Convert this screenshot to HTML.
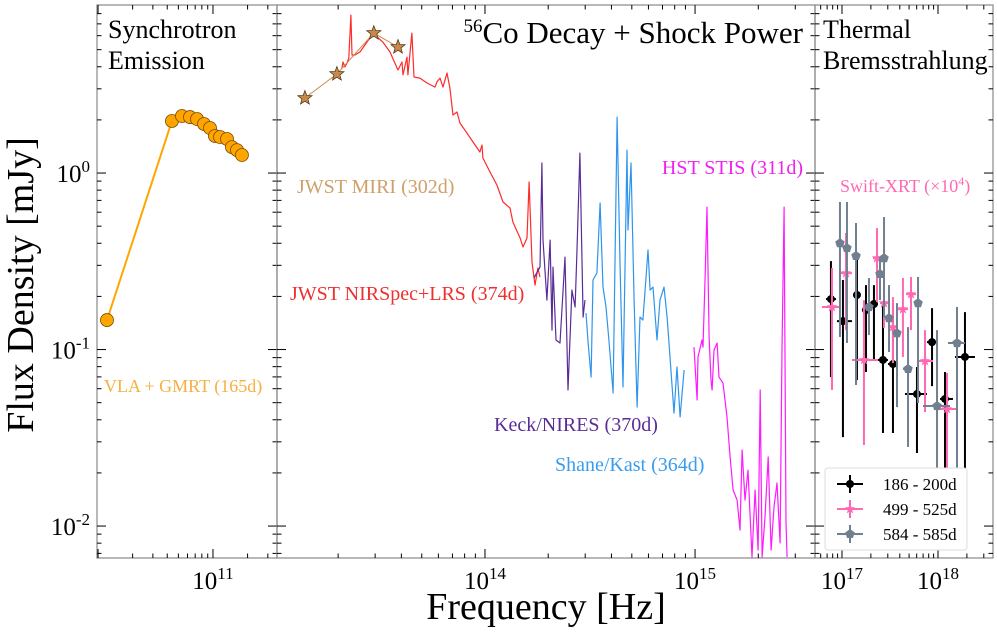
<!DOCTYPE html>
<html><head><meta charset="utf-8">
<style>
html,body{margin:0;padding:0;background:#fff;}
svg{display:block;font-family:"Liberation Serif",serif;}
</style></head>
<body>
<svg id="chart" width="997" height="633" viewBox="0 0 997 633" xmlns="http://www.w3.org/2000/svg"></svg>
<script>
// ---------- data (log10 Hz, log10 mJy) ----------
const radioNu = [10.078,10.643,10.730,10.800,10.861,10.922,10.974,11.017,11.061,11.122,11.165,11.209,11.252];
const radioF  = [-0.833,0.295,0.323,0.317,0.306,0.278,0.255,0.210,0.204,0.193,0.147,0.130,0.102];

const miriNu = [13.143,13.295,13.471,13.586];
const miriF  = [0.425,0.561,0.793,0.714];

const jwstNu = [13.319,13.324,13.333,13.343,13.352,13.362,13.367,13.381,13.405,13.438,13.462,13.486,13.514,13.548,13.571,13.586,13.605,13.610,13.629,13.633,13.652,13.662,13.690,13.724,13.762,13.771,13.786,13.800,13.819,13.833,13.848,13.867,13.881,13.914,13.943,13.976,13.986,13.990,14.024,14.057,14.086,14.119,14.133,14.167,14.181,14.200,14.210,14.224,14.238,14.252,14.262];
const jwstF  = [0.595,0.629,0.601,0.623,0.652,0.895,0.669,0.669,0.686,0.742,0.782,0.771,0.742,0.686,0.623,0.584,0.629,0.556,0.657,0.556,0.793,0.544,0.538,0.510,0.487,0.516,0.538,0.487,0.567,0.482,0.329,0.346,0.283,0.227,0.176,0.119,0.159,0.085,0.006,-0.068,-0.164,-0.198,-0.278,-0.368,-0.419,-0.368,-0.051,-0.504,-0.635,-0.538,-0.589];

const keckNu = [14.233,14.262,14.271,14.276,14.295,14.310,14.319,14.324,14.338,14.357,14.367,14.381,14.395,14.414,14.429,14.438,14.452,14.467,14.476];
const keckF  = [-0.595,-0.533,0.057,-0.380,-0.720,-0.380,-0.890,-0.533,-0.946,-0.963,-0.759,-0.476,-1.229,-0.663,-0.759,-0.436,0.113,-0.816,-0.720];

const kastNu = [14.481,14.490,14.505,14.514,14.533,14.548,14.562,14.576,14.590,14.610,14.629,14.643,14.657,14.676,14.681,14.695,14.710,14.724,14.738,14.752,14.776,14.786,14.800,14.819,14.833,14.852,14.867,14.881,14.900,14.914,14.929,14.948];
const kastF  = [-0.793,-0.946,-1.156,-0.606,-0.567,-0.170,-0.646,-0.759,-0.946,-1.246,0.317,-0.533,-1.212,0.130,-0.323,0.057,-0.720,-1.326,-0.816,-0.833,-0.436,-0.663,-0.646,-0.946,-0.720,-0.646,-0.816,-1.042,-1.360,-1.099,-1.382,-1.116];

const stisNu = [14.995,15.010,15.014,15.033,15.038,15.048,15.057,15.067,15.076,15.081,15.090,15.105,15.114,15.133,15.152,15.167,15.181,15.200,15.214,15.224,15.238,15.252,15.271,15.286,15.300,15.310,15.319,15.333,15.348,15.362,15.376,15.390,15.405,15.414,15.424,15.433,15.438];
const stisF  = [-0.986,-1.286,-1.042,-0.946,-0.986,-0.589,-0.193,-0.929,-1.173,-1.229,-1.003,-0.963,-1.156,-1.190,-1.382,-1.609,-1.796,-1.853,-2.023,-1.569,-1.853,-1.683,-2.176,-1.796,-2.136,-1.229,-2.176,-1.949,-1.609,-2.136,-1.892,-1.756,-2.096,-1.003,-0.193,-1.983,-2.176];

const xBlackNu   = [16.885,17.010,17.156,17.250,17.333,17.427,17.531,17.781,17.938,18.073,18.281];
const xBlackF    = [-0.714,-0.839,-0.691,-0.776,-0.742,-1.059,-1.082,-1.252,-0.958,-1.280,-1.042];
const xBlackFHi  = [-0.499,-0.606,-0.482,-0.635,-0.635,-0.737,-0.737,-1.099,-0.765,-1.127,-0.788];
const xBlackFLo  = [-1.156,-1.496,-1.173,-1.127,-1.059,-1.473,-1.473,-1.586,-1.207,-1.683,-1.683];
const xBlackNuLo = [16.833,16.948,17.115,17.208,17.292,17.375,17.479,17.656,17.885,18.021,18.177];
const xBlackNuHi = [16.938,17.104,17.188,17.292,17.375,17.479,17.583,17.885,17.990,18.156,18.385];

const xPinkNu   = [16.896,17.042,17.229,17.365,17.438,17.531,17.635,17.719,17.865,18.094];
const xPinkF    = [-0.759,-0.567,-1.059,-0.482,-0.737,-0.873,-0.771,-0.686,-1.065,-1.337];
const xPinkFHi  = [-0.538,-0.340,-0.720,-0.312,-0.606,-0.703,-0.595,-0.589,-0.890,-1.133];
const xPinkFLo  = [-1.229,-0.890,-1.541,-0.731,-0.878,-1.076,-1.042,-0.890,-1.354,-1.683];
const xPinkNuLo = [16.792,16.979,17.104,17.323,17.396,17.479,17.583,17.667,17.781,17.969];
const xPinkNuHi = [16.979,17.104,17.375,17.406,17.479,17.583,17.688,17.771,17.948,18.208];

const xGreyNu   = [16.979,17.052,17.146,17.281,17.396,17.438,17.490,17.573,17.688,17.792,17.990,18.198];
const xGreyF    = [-0.397,-0.425,-0.470,-0.759,-0.572,-0.482,-0.822,-0.907,-1.110,-0.737,-1.320,-0.963];
const xGreyFHi  = [-0.164,-0.164,-0.283,-0.595,-0.476,-0.249,-0.635,-0.737,-0.873,-0.589,-0.890,-0.759];
const xGreyFLo  = [-0.929,-0.963,-1.201,-0.918,-0.720,-0.816,-1.014,-1.326,-1.552,-1.303,-1.683,-1.683];
const xGreyNuLo = [16.94,17.01,17.11,17.24,17.36,17.40,17.45,17.53,17.635,17.75,17.844,18.104];
const xGreyNuHi = [17.02,17.09,17.19,17.32,17.44,17.48,17.53,17.61,17.729,17.83,18.125,18.281];

// ---------- scales ----------
const yTop=5, yBot=558, yMax=0.952, yMin=-2.181;
const Y = v => yTop + (yMax - v)/(yMax - yMin)*(yBot-yTop);
const panels = [
  {x0:97, x1:277, lo:9.991, hi:11.557, majors:[11]},
  {x0:277,x1:815, lo:13.010,hi:15.571, majors:[14,15]},
  {x0:815,x1:993, lo:16.719,hi:18.573, majors:[17,18]}
];
const X = (p,v) => p.x0 + (v-p.lo)/(p.hi-p.lo)*(p.x1-p.x0);

const NS="http://www.w3.org/2000/svg";
const svg=document.getElementById('chart');
function mk(tag,attrs,parent){const e=document.createElementNS(NS,tag);for(const k in attrs)e.setAttribute(k,attrs[k]);(parent||svg).appendChild(e);return e;}

// ---------- frames & ticks ----------
panels.forEach((p,i)=>{
  const g=mk('g',{});
  
  
  const fr=mk('rect',{x:p.x0,y:yTop,width:p.x1-p.x0,height:yBot-yTop,fill:'none',stroke:'#888','stroke-width':1.2},g);
  
  
  for(let d=-3; d<=0; d++){
    for(let m=1;m<10;m++){
      const v=d+Math.log10(m); if(v<yMin||v>yMax) continue;
      const L=m===1?9:4.5, y=Y(v);
      mk('line',{x1:p.x0,x2:p.x0+L,y1:y,y2:y,stroke:'#000','stroke-width':1},g);
      mk('line',{x1:p.x1,x2:p.x1-L,y1:y,y2:y,stroke:'#000','stroke-width':1},g);
    }
  }
  for(let d=Math.floor(p.lo); d<=Math.ceil(p.hi); d++){
    for(let m=1;m<10;m++){
      const v=d+Math.log10(m); if(v<p.lo||v>p.hi) continue;
      const L=m===1?9:4.5, x=X(p,v);
      mk('line',{x1:x,x2:x,y1:yBot,y2:yBot-L,stroke:'#000','stroke-width':1},g);
      mk('line',{x1:x,x2:x,y1:yTop,y2:yTop+L,stroke:'#000','stroke-width':1},g);
    }
  }
  p.majors.forEach(d=>{
    const t=mk('text',{x:X(p,d),y:589,'text-anchor':'middle','font-size':25},g);
    
    
    t.innerHTML='10<tspan dy="-10" font-size="17">'+d+'</tspan>';
  });
});
[0,-1,-2].forEach(d=>{
  const t=mk('text',{x:90,y:Y(d)+9,'text-anchor':'end','font-size':25});
  
  
  t.innerHTML='10<tspan dy="-10" font-size="17">'+d+'</tspan>';
});

// ---------- series helpers ----------
function line(p,xs,ys,color,w,name){
  const d=xs.map((v,i)=>(i?'L':'M')+X(p,v).toFixed(1)+' '+Y(ys[i]).toFixed(1)).join(' ');
  const e=mk('path',{d:d,fill:'none',stroke:color,'stroke-width':w,'stroke-linejoin':'round'});
  
  
  return e;
}
function star(cx,cy,r){let s='';for(let k=0;k<10;k++){const a=-Math.PI/2+k*Math.PI/5,rr=k%2?r*0.42:r;s+=(k?'L':'M')+(cx+rr*Math.cos(a)).toFixed(1)+' '+(cy+rr*Math.sin(a)).toFixed(1);}return s+'Z';}
function pent(cx,cy,r){let s='';for(let k=0;k<5;k++){const a=-Math.PI/2+k*2*Math.PI/5;s+=(k?'L':'M')+(cx+r*Math.cos(a)).toFixed(1)+' '+(cy+r*Math.sin(a)).toFixed(1);}return s+'Z';}

const P1=panels[0],P2=panels[1],P3=panels[2];
line(P1,radioNu,radioF,'#ffa500',2,'radio-line');
radioNu.forEach((v,i)=>{
  const c=mk('circle',{cx:X(P1,v),cy:Y(radioF[i]),r:6.5,fill:'#ffa500',stroke:'#7a4a00','stroke-width':0.8});
  
  
});

line(P2,jwstNu,jwstF,'#ff2a2a',1.2,'jwst-nirspec-spectrum');
line(P2,keckNu,keckF,'#5a2c96',1.2,'keck-nires-spectrum');
line(P2,kastNu,kastF,'#2f95ec',1.2,'shane-kast-spectrum');
line(P2,stisNu,stisF,'#ff1aff',1.2,'hst-stis-spectrum');
line(P2,miriNu,miriF,'#c8894a',1,'miri-line');
miriNu.forEach((v,i)=>{
  const s=mk('path',{d:star(X(P2,v),Y(miriF[i]),7.5),fill:'#c8894a',stroke:'#4a3010','stroke-width':0.7});
  
  
});

function xray(nu,f,fhi,flo,nlo,nhi,color,shape,name){
  nu.forEach((v,i)=>{
    const g=mk('g',{});
    
    
    const cx=X(P3,v),cy=Y(f[i]);
    mk('line',{x1:cx,x2:cx,y1:Y(fhi[i]),y2:Y(flo[i]),stroke:color,'stroke-width':2},g);
    mk('line',{x1:X(P3,nlo[i]),x2:X(P3,nhi[i]),y1:cy,y2:cy,stroke:color,'stroke-width':2},g);
    if(shape==='c') mk('circle',{cx:cx,cy:cy,r:4,fill:color},g);
    else if(shape==='s') mk('path',{d:star(cx,cy,5.5),fill:color},g);
    else mk('path',{d:pent(cx,cy,5),fill:color},g);
  });
}
xray(xBlackNu,xBlackF,xBlackFHi,xBlackFLo,xBlackNuLo,xBlackNuHi,'#000','c','xrt-186-200d-point');
xray(xPinkNu,xPinkF,xPinkFHi,xPinkFLo,xPinkNuLo,xPinkNuHi,'#ff69b4','s','xrt-499-525d-point');
xray(xGreyNu,xGreyF,xGreyFHi,xGreyFLo,xGreyNuLo,xGreyNuHi,'#708090','p','xrt-584-585d-point');

const lg=mk('g',{});


mk('rect',{x:825,y:468,width:142,height:82,rx:3,fill:'#fff',stroke:'#ddd','stroke-width':1},lg);
[['186 - 200d','#000','c'],['499 - 525d','#ff69b4','s'],['584 - 585d','#708090','p']].forEach((e,i)=>{
  const y=484+i*25, cx=850;
  const it=mk('g',{},lg);
  
  
  mk('line',{x1:837,x2:863,y1:y,y2:y,stroke:e[1],'stroke-width':2},it);
  mk('line',{x1:cx,x2:cx,y1:y-9,y2:y+9,stroke:e[1],'stroke-width':2},it);
  if(e[2]==='c') mk('circle',{cx:cx,cy:y,r:4,fill:e[1]},it);
  else if(e[2]==='s') mk('path',{d:star(cx,y,5.5),fill:e[1]},it);
  else mk('path',{d:pent(cx,y,5),fill:e[1]},it);
  const t=mk('text',{x:883,y:y+6,'font-size':17},it); t.textContent=e[0];
});
</script>
<svg style="position:absolute;left:0;top:0" width="997" height="633" font-family="Liberation Serif, serif">
  <text x="33" y="285" font-size="38" text-anchor="middle" transform="rotate(-90 33 285)">Flux Density [mJy]</text>
  <text x="546" y="619" font-size="38" text-anchor="middle">Frequency [Hz]</text>
  <text x="108" y="38" font-size="26">Synchrotron</text>
  <text x="108" y="69" font-size="26">Emission</text>
  <text x="803" y="43" font-size="31" text-anchor="end"><tspan dy="-11" font-size="19">56</tspan><tspan dy="11">Co Decay + Shock Power</tspan></text>
  <text x="823" y="38" font-size="26">Thermal</text>
  <text x="823" y="69" font-size="26">Bremsstrahlung</text>
  <text x="104" y="392" font-size="18" fill="#f5b040">VLA + GMRT (165d)</text>
  <text x="297" y="193" font-size="20" fill="#d0a06a">JWST MIRI (302d)</text>
  <text x="290" y="300" font-size="20" fill="#ee3030">JWST NIRSpec+LRS (374d)</text>
  <text x="803" y="174" font-size="20" fill="#ee22ee" text-anchor="end">HST STIS (311d)</text>
  <text x="494" y="431" font-size="20" fill="#5a2c96">Keck/NIRES (370d)</text>
  <text x="555" y="471" font-size="20" fill="#3a9cee">Shane/Kast (364d)</text>
  <text x="840" y="192" font-size="18" fill="#ff69b4">Swift-XRT (×10<tspan dy="-7" font-size="12">4</tspan><tspan dy="7">)</tspan></text>
</svg>
</body></html>
